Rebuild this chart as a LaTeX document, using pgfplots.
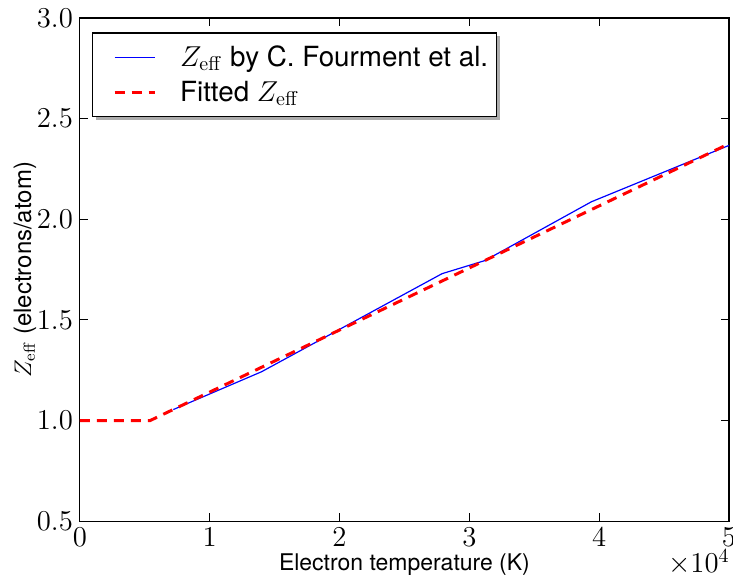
\documentclass[border=0pt]{standalone}
\usepackage[no-math]{fontspec}
\setmainfont{TeX Gyre Heros}
\usepackage{pgfplots}
\pgfplotsset{compat=1.18}
\usetikzlibrary{calc}
\pgfdeclarelayer{background}
\pgfsetlayers{background,main}
\begin{document}
\begin{tikzpicture}
\begin{axis}[
 name=ax,
 scale only axis, width=325pt, height=252pt,
 xmin=0, xmax=50000, ymin=0.5, ymax=3.0,
 xtick={0,10000,20000,30000,40000,50000},
 xticklabels={$0$,$1$,$2$,$3$,$4$,$5$},
 scaled x ticks=false,
 ytick={0.5,1.0,1.5,2.0,2.5,3.0},
 yticklabel style={/pgf/number format/fixed,/pgf/number format/fixed zerofill,/pgf/number format/precision=1},
 tick label style={font=\fontsize{14}{16}\selectfont},
 xlabel={Electron temperature (K)},
 ylabel={$Z_{\mathrm{eff}}$ (electrons/atom)},
 xlabel style={font=\fontsize{11.5}{14}\selectfont, at={(rel axis cs:0.5,0)}, anchor=base, yshift=-24.5pt},
 ylabel style={font=\fontsize{12}{14}\selectfont, at={(rel axis cs:0,0.5)}, anchor=center, yshift=27.5pt},
 axis line style={line width=0.6pt},
 tick style={black, line width=0.5pt},
 major tick length=4pt,
 legend style={name=leg, at={(rel axis cs:0.02,0.97)}, anchor=north west, draw=none, fill=white,
   font=\fontsize{13.9}{16}\selectfont, inner xsep=2pt, inner ysep=4pt, row sep=2pt},
 legend cell align=left,
]
\addplot[color=blue, line width=0.6pt,
  legend image code/.code={\draw[draw=blue, line width=0.7pt] (0pt,0pt) -- (20pt,0pt); \path (-8pt,0pt) (30pt,0pt);}] coordinates {
 (7200,1.055) (14000,1.243) (27900,1.73) (31200,1.795) (39400,2.087) (50000,2.367)
};
\addlegendentry{$Z_{\mathrm{eff}}$ by C. Fourment et al.}
\addplot[color=red, line width=1.5pt, dash pattern=on 5pt off 3.5pt,
  legend image code/.code={\draw[draw=red, line width=1.5pt, dash pattern=on 5pt off 3.5pt] (0pt,0pt) -- (20pt,0pt); \path (-8pt,0pt) (30pt,0pt);}] coordinates {
 (0,1.0) (5400,1.0) (50000,2.375)
};
\addlegendentry{Fitted $Z_{\mathrm{eff}}$}
\end{axis}
\begin{pgfonlayer}{background}
\fill[gray!65] ($(leg.south west)+(1.7pt,-1.7pt)$) rectangle ($(leg.north east)+(1.7pt,-1.7pt)$);
\end{pgfonlayer}
\draw[black, line width=0.6pt] (leg.south west) rectangle (leg.north east);
\node[anchor=north east, inner sep=0pt, font=\fontsize{14}{16}\selectfont] at ($(ax.south east)+(0.5pt,-13.8pt)$) {$\times10^{4}$};
\pgfresetboundingbox
\useasboundingbox ($(ax.south west)+(-40pt,-30.5pt)$) rectangle ($(ax.north east)+(2pt,9pt)$);
\end{tikzpicture}
\end{document}
